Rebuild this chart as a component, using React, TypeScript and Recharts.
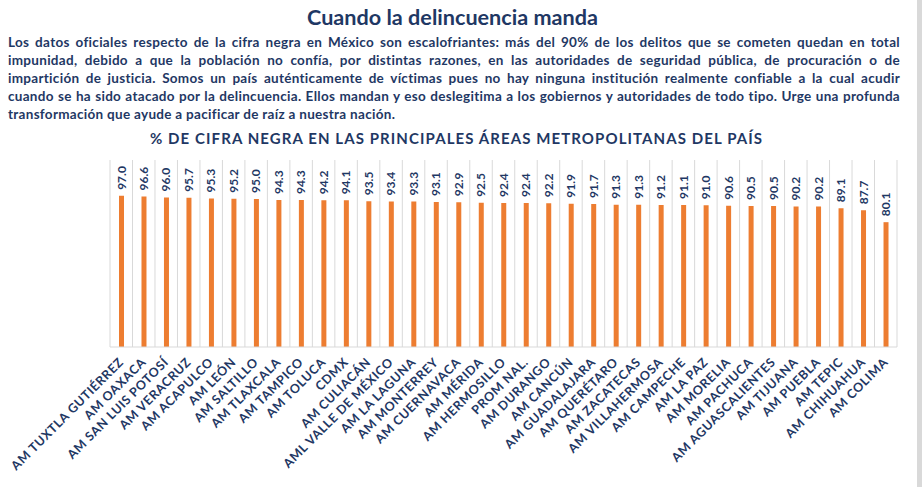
import React from 'react'
import { BarChart, Bar, XAxis, YAxis, CartesianGrid, LabelList } from 'recharts'

const areas = [
  'AM TUXTLA GUTIÉRREZ', 'AM OAXACA', 'AM SAN LUIS POTOSÍ', 'AM VERACRUZ', 'AM ACAPULCO',
  'AM LEÓN', 'AM SALTILLO', 'AM TLAXCALA', 'AM TAMPICO', 'AM TOLUCA', 'CDMX',
  'AM CULIACÁN', 'AML VALLE DE MÉXICO', 'AM LA LAGUNA', 'AM MONTERREY', 'AM CUERNAVACA',
  'AM MÉRIDA', 'AM HERMOSILLO', 'PROM NAL.', 'AM DURANGO', 'AM CANCÚN', 'AM GUADALAJARA',
  'AM QUERÉTARO', 'AM ZACATECAS', 'AM VILLAHERMOSA', 'AM CAMPECHE', 'AM LA PAZ',
  'AM MORELIA', 'AM PACHUCA', 'AM AGUASCALIENTES', 'AM TIJUANA', 'AM PUEBLA',
  'AM TEPIC', 'AM CHIHUAHUA', 'AM COLIMA',
]
const cifraNegra = [
  97.0, 96.6, 96.0, 95.7, 95.3, 95.2, 95.0, 94.3, 94.3, 94.2, 94.1,
  93.5, 93.4, 93.3, 93.1, 92.9, 92.5, 92.4, 92.4, 92.2, 91.9, 91.7,
  91.3, 91.3, 91.2, 91.1, 91.0, 90.6, 90.5, 90.5, 90.2, 90.2,
  89.1, 87.7, 80.1,
]

const title = 'Cuando la delincuencia manda'
const chartTitle = '% DE CIFRA NEGRA EN LAS PRINCIPALES ÁREAS METROPOLITANAS DEL PAÍS'
const paragraph = [
  'Los datos oficiales respecto de la cifra negra en México son escalofriantes: más del 90% de los delitos que se cometen quedan en total',
  'impunidad, debido a que la población no confía, por distintas razones, en las autoridades de seguridad pública, de procuración o de',
  'impartición de justicia. Somos un país auténticamente de víctimas pues no hay ninguna institución realmente confiable a la cual acudir',
  'cuando se ha sido atacado por la delincuencia. Ellos mandan y eso deslegitima a los gobiernos y autoridades de todo tipo. Urge una profunda',
  'transformación que ayude a pacificar de raíz a nuestra nación.',
]

const data = areas.map((area, i) => ({ area, value: cifraNegra[i] }))

const NAVY = '#1f3864'
const FONT = 'Lato, "Open Sans", sans-serif'

// eslint-disable-next-line @typescript-eslint/no-explicit-any
function AreaTick({ x, y, payload }: any) {
  return (
    <text transform={`translate(${x + 3},${y + 8}) rotate(-45)`} textAnchor="end"
      fontSize={12.5} fontWeight={700} fill={NAVY} fontFamily={FONT} letterSpacing={0.6}>
      {payload.value}
    </text>
  )
}

// eslint-disable-next-line @typescript-eslint/no-explicit-any
function ValueLabel({ x, y, width, value }: any) {
  return (
    <text transform={`translate(${x + width / 2 + 4},${y - 6}) rotate(-90)`} textAnchor="start"
      fontSize={12} fontWeight={700} fill={NAVY} fontFamily={FONT}>
      {Number(value).toFixed(1)}
    </text>
  )
}

export default function App() {
  const n = data.length
  return (
    <div style={{ position: 'absolute', left: 0, top: 0, width: 922, height: 487, background: '#fff', overflow: 'hidden' }}>
      <BarChart width={922} height={487} data={data} margin={{ top: 160, right: 25, bottom: 10, left: 110 }}>
        <CartesianGrid horizontal={false} stroke="#d9d9d9"
          // eslint-disable-next-line @typescript-eslint/no-explicit-any
          verticalCoordinatesGenerator={({ offset }: any) =>
            Array.from({ length: n + 1 }, (_, i) => offset.left + (i * offset.width) / n)} />
        <XAxis dataKey="area" interval={0} height={130} tickLine={false}
          axisLine={{ stroke: '#d9d9d9' }} tick={<AreaTick />} />
        <YAxis hide domain={[0, 120]} />
        <Bar dataKey="value" fill="#ed7d31" barSize={5} isAnimationActive={false}>
          <LabelList dataKey="value" content={<ValueLabel />} />
        </Bar>
      </BarChart>
      <svg width={922} height={487} style={{ position: 'absolute', left: 0, top: 0, pointerEvents: 'none' }}>
        <text x={307} y={25} textLength={291} lengthAdjust="spacingAndGlyphs" fontSize={21}
          fontWeight={700} fill={NAVY} fontFamily={FONT}>{title}</text>
        <text x={150} y={144} textLength={612} lengthAdjust="spacing" fontSize={15}
          fontWeight={700} fill={NAVY} fontFamily={FONT}>{chartTitle}</text>
        <rect x={917} y={0} width={5} height={487} fill="#d9d9d9" />
      </svg>
      <div style={{ position: 'absolute', left: 8, top: 33, width: 892, fontFamily: FONT, fontWeight: 700,
        fontSize: 13.5, letterSpacing: 0.3, lineHeight: '18px', color: NAVY }}>
        {paragraph.map((line, i) => (
          <div key={i} style={{ textAlign: 'justify', textAlignLast: i < paragraph.length - 1 ? 'justify' : 'left',
            whiteSpace: 'nowrap' }}>{line}</div>
        ))}
      </div>
    </div>
  )
}
